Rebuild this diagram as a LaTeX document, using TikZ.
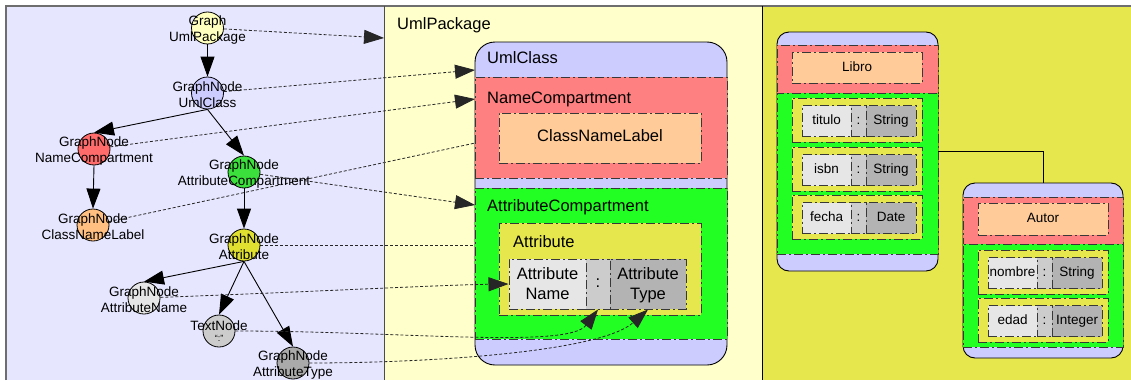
\documentclass[tikz,border=0pt]{standalone}
\usepackage{fontspec}
\setmainfont{Liberation Sans}
\usetikzlibrary{arrows.meta,fit}
\pgfdeclarelayer{panels}
\pgfdeclarelayer{behind}
\pgfsetlayers{panels,behind,main}

\definecolor{pLeft}{HTML}{E6E6FF}
\definecolor{pMid}{HTML}{FFFFCC}
\definecolor{pRight}{HTML}{E6E64D}
\definecolor{cBlue}{HTML}{CCCCFF}
\definecolor{cRed}{HTML}{FF8080}
\definecolor{cOrange}{HTML}{FFCC99}
\definecolor{cGreen}{HTML}{22FF22}
\definecolor{cYellow}{HTML}{E6E64D}
\definecolor{cGrayA}{HTML}{E6E6E6}
\definecolor{cGrayB}{HTML}{CCCCCC}
\definecolor{cGrayC}{HTML}{B3B3B3}
\definecolor{nPkg}{HTML}{FFFFBF}
\definecolor{nClass}{HTML}{CCCCFF}
\definecolor{nName}{HTML}{FF6B6B}
\definecolor{nAttrs}{HTML}{3CE03C}
\definecolor{nLabel}{HTML}{FFBF80}
\definecolor{nAttr}{HTML}{E0E030}
\definecolor{nAName}{HTML}{E6E6E6}
\definecolor{nText}{HTML}{CCCCCC}
\definecolor{nAType}{HTML}{AAAAAA}
\definecolor{frameGray}{HTML}{6E6E6E}

\begin{document}
\begin{tikzpicture}[x=1pt, y=-1pt,
  gcirc/.style={circle, draw=black, line width=0.8pt, minimum size=32pt, inner sep=0pt},
  glabel/.style={align=center, inner sep=0pt, font=\fontsize{13.5}{16}\selectfont},
  tree/.style={draw=black, line width=0.9pt, -{Triangle[length=20pt,width=14pt]}},
  ref/.style={draw=black!85, line width=0.8pt, dash pattern=on 3pt off 2pt, -{Triangle[length=20pt,width=14pt]}},
  area/.style={rectangle, inner sep=0pt, fit={#1}},
  panel/.style={area={#1}},
  part/.style={area={#1}, draw=black!78, line width=1pt, dash pattern=on 9pt off 3pt on 2pt off 3pt},
  classbox/.style={area={#1}, draw=black, line width=0.9pt, fill=cBlue},
  title/.style={anchor=base west, inner sep=0pt, font=\fontsize{16.5}{20}\selectfont},
  bigtext/.style={inner sep=0pt, font=\fontsize{16.5}{20}\selectfont, align=center},
  bigline/.style={bigtext, text height=0.72em, text depth=0pt},
  rowtext/.style={inner sep=0pt, font=\fontsize{13.5}{16}\selectfont, text height=0.72em, text depth=0pt}
]
\useasboundingbox (0,0) rectangle (1131,380);

% three panels
\begin{pgfonlayer}{panels}
  \node[panel={(6,6) (384,380)}, fill=pLeft] (leftPanel) {};
  \node[panel={(384,6) (762,380)}, fill=pMid] (midPanel) {};
  \node[panel={(762,6) (1131,380)}, fill=pRight] (rightPanel) {};
\end{pgfonlayer}
\draw[frameGray, line width=2pt] (leftPanel.south west) -- (leftPanel.north west) -- (rightPanel.north east);
\draw[black!70, line width=1pt] (leftPanel.north east) -- (leftPanel.south east);
\draw[black, line width=1.3pt] (midPanel.north east) -- (midPanel.south east);

% ---------- package with one class ----------
\node[title] (pkgT) at (397,29) {UmlPackage};
\node[classbox={(475,42) (727,365)}, rounded corners=20pt] (uc) {};
\node[part={(475,77) (727,178)}, fill=cRed] (ncomp) {};
\node[part={(499,113) (701,163)}, fill=cOrange] (cnl) {};
\node[part={(475,188) (727,339)}, fill=cGreen] (acomp) {};
\node[part={(499,223) (701,315)}, fill=cYellow] (attrBox) {};
\node[part={(509,259) (586,309)}, fill=cGrayA] (anBox) {};
\node[part={(586,259) (610,309)}, fill=cGrayB] (colonBox) {};
\node[part={(610,259) (686,309)}, fill=cGrayC] (atBox) {};
\node[title] (ucT) at (487,63) {UmlClass};
\node[title] (ncT) at (487,103) {NameCompartment};
\node[title] (acT) at (487,211) {AttributeCompartment};
\node[title] (attrT) at (513,247) {Attribute};
\node[bigline] (cnlT) at (cnl.center) {ClassNameLabel};
\node[bigtext] (anT) at (anBox.center) {Attribute\\Name};
\node[bigline] (colonT) at (colonBox.center) {:};
\node[bigtext] (atT) at ([yshift=-1.5pt]atBox.center) {Attribute\\Type};

\coordinate (pkgIn) at (384,38);
\coordinate (ucIn) at (475,70);
\coordinate (ncIn) at (475,99);
\coordinate (acIn) at (475,205);

% ---------- example model: Libro and Autor ----------
\node[classbox={(777,32) (938,271)}, rounded corners=12pt] (libro) {};
\node[part={(777,45) (938,93)}, fill=cRed] (libroName) {};
\node[part={(792,52) (922,83)}, fill=cOrange] (libroLabel) {};
\node[rowtext] at (libroLabel.center) {Libro};
\node[part={(777,93) (938,254)}, fill=cGreen] (libroAttrs) {};

\node[classbox={(963,183) (1123,358)}, rounded corners=12pt] (autor) {};
\node[part={(963,197) (1123,244)}, fill=cRed] (autorName) {};
\node[part={(978,203) (1108,235)}, fill=cOrange] (autorLabel) {};
\node[rowtext] at (autorLabel.center) {Autor};
\node[part={(963,244) (1123,347)}, fill=cGreen] (autorAttrs) {};

\foreach \x/\y/\n/\t/\k in {792/98/titulo/String/a, 792/147/isbn/String/b,
    792/195/fecha/Date/c, 978/250/nombre/String/d, 978/298/edad/Integer/e} {
  \node[part={(\x,\y) (\x+130,\y+44)}, fill=cYellow] (row\k) {};
  \node[part={(\x+10,\y+7.5) (\x+59,\y+38.5)}, fill=cGrayA] (row\k-name) {};
  \node[part={(\x+59,\y+7.5) (\x+74,\y+38.5)}, fill=cGrayB] (row\k-colon) {};
  \node[part={(\x+74,\y+7.5) (\x+124,\y+38.5)}, fill=cGrayC] (row\k-type) {};
  \node[rowtext] at (row\k-name.center) {\n};
  \node[rowtext] at (row\k-colon.center) {:};
  \node[rowtext] at (row\k-type.center) {\t};
}
\draw[black, line width=0.8pt] (libro.east) -| (autor.north);

% ---------- graph of the notation ----------
\node[gcirc, fill=nPkg]   (gPkg)  at (207.5,28) {};
\node[gcirc, fill=nClass] (gUC)   at (207.5,93) {};
\node[gcirc, fill=nName]  (gNC)   at (94,149) {};
\node[gcirc, fill=nAttrs] (gAC)   at (244,172) {};
\node[gcirc, fill=nLabel] (gCNL)  at (93,225) {};
\node[gcirc, fill=nAttr]  (gA)    at (244,245) {};
\node[gcirc, fill=nAName] (gAN)   at (144,298) {};
\node[gcirc, fill=nText]  (gTN)   at (219,331) {};
\node[gcirc, fill=nAType] (gAT)   at (293,363) {};

\node[glabel] (gPkgT) at (207.5,30) {Graph\\UmlPackage};
\node[glabel] (gUCT)  at (207.5,95) {GraphNode\\UmlClass};
\node[glabel] (gNCT)  at (94,151) {GraphNode\\NameCompartment};
\node[glabel] (gACT)  at (244,174) {GraphNode\\AttributeCompartment};
\node[glabel] (gCNLT) at (93,227) {GraphNode\\ClassNameLabel};
\node[glabel] (gAT2)  at (244,247) {GraphNode\\Attribute};
\node[glabel] (gANT)  at (144,300) {GraphNode\\AttributeName};
\node[glabel] (gTNT)  at (219,331) {TextNode\\[-5pt]{\fontsize{9}{9}\selectfont “:”}};
\node[glabel] (gATT)  at (293,365) {GraphNode\\AttributeType};

\draw[tree] (gPkg.south) -- (gUC.north);
\draw[tree] (gUC.south) -- (gNC.north);
\draw[tree] (gUC.south) -- (gAC.north);
\draw[tree] (gNC.south) -- (gCNL.north);
\draw[tree] (gAC.south) -- (gA.north);
\draw[tree] (gA.south) -- (gAN.north);
\draw[tree] (gA.south) -- (gTN.north);
\draw[tree] (gA.south) -- (gAT.north);

% links from graph nodes to the parts they draw
\draw[ref] (gPkg) -- (pkgIn);
\draw[ref] (gUC) -- (ucIn);
\draw[ref] (gNC) -- (ncIn);
\draw[ref] (gAC) -- (acIn);
\draw[ref] (gAN) .. controls (330,291) and (440,285) .. (anBox.west);
\draw[ref] (gTN) .. controls (400,331) and (568,349) .. (colonBox.south);
\draw[ref] (gAT) .. controls (430,363) and (600,352) .. (atBox.south);
\begin{pgfonlayer}{behind}
  \draw[ref] (gCNL) -- (cnl.west);
  \draw[ref] (gA) -- (attrBox.west |- gA);
\end{pgfonlayer}
\end{tikzpicture}
\end{document}
